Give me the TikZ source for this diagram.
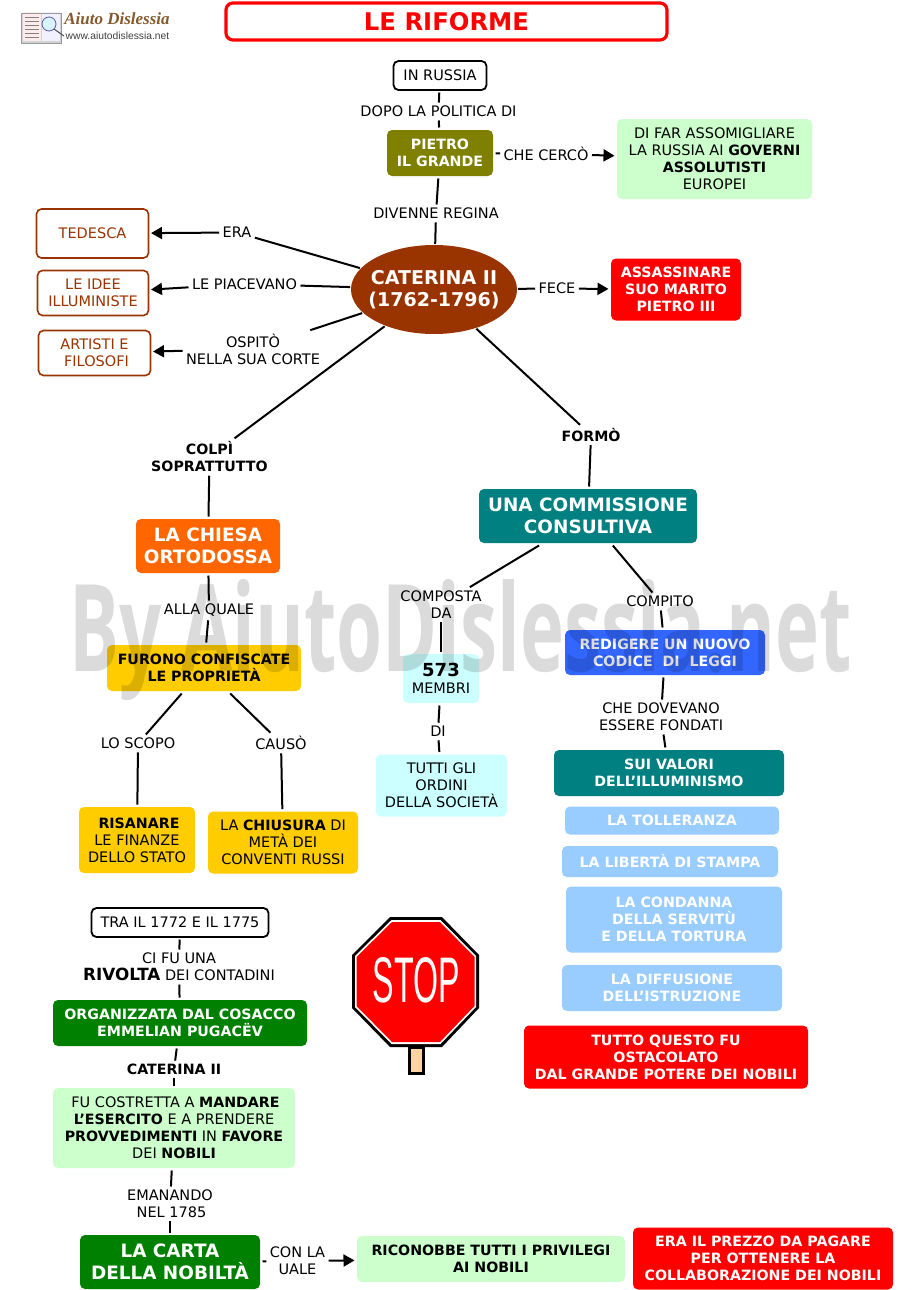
\documentclass[tikz,border=0pt]{standalone}
\usepackage{fontspec}
\setmainfont{DejaVu Sans}
\newfontfamily\wmfont{Open Sans}
\newfontfamily\logofont{Liberation Serif}
\newfontfamily\urlfont{Liberation Sans}
\usetikzlibrary{arrows.meta,shapes.geometric}
\definecolor{brownc}{HTML}{993300}
\definecolor{olivec}{HTML}{808000}
\definecolor{mintc}{HTML}{CCFFCC}
\definecolor{tealc}{HTML}{008080}
\definecolor{orangec}{HTML}{FF6600}
\definecolor{yellowc}{HTML}{FFCC00}
\definecolor{cyanc}{HTML}{CCFFFF}
\definecolor{bluec}{HTML}{3366FF}
\definecolor{skyc}{HTML}{99CCFF}
\definecolor{greenc}{HTML}{008000}
\newcommand{\fs}[2]{\fontsize{#1}{#2}\selectfont}
\newcommand{\bt}[1]{{\fontsize{14.2}{17}\selectfont\bfseries #1}}
\tikzset{
  x=1pt,y=-1pt,
  sz/.style 2 args={minimum width=#1pt,minimum height=#2pt},
  txt/.style={font=\fs{14.5}{17},align=center,inner sep=0pt},
  lab/.style={txt,inner sep=1pt,outer sep=2.5pt},
  blab/.style={lab,font=\fs{14.2}{17}\bfseries},
  box/.style={txt,rectangle,rounded corners=5pt,inner sep=0pt,outer sep=2.5pt},
  bbox/.style={box,font=\fs{14.2}{17}\bfseries},
  big/.style={box,font=\fs{18.4}{22}\bfseries},
  conn/.style={draw=black,line width=2pt},
  arr/.style={conn,-{Triangle[length=11pt,width=12pt]}},
}
\begin{document}
\begin{tikzpicture}
\useasboundingbox (0,0) rectangle (919,1290);
\fill[white] (0,0) rectangle (919,1290);

% logo
\fill[gray!35] (21,13) rectangle (61,43);
\fill[red!8] (23,12) rectangle (41,41);
\fill[blue!6] (42,12) rectangle (60,41);
\draw[gray!80,line width=.6pt] (21,13) rectangle (61,43);
\foreach \yy in {17,21,25,29,33,37}{\draw[gray,line width=.5pt] (25,\yy) -- (39,\yy);}
\draw[gray!70!blue,line width=.8pt,fill=cyan!15] (49,24) circle (7);
\draw[gray!60!black,line width=1pt] (54,29) -- (64,36);
\node[inner sep=0pt,text=brown!70!black] (logoa) at (117,19) {\logofont\fs{17}{18}\bfseries\itshape Aiuto Dislessia};
\node[inner sep=0pt,text=black!75] (logob) at (117.5,36) {\urlfont\fs{10.3}{12}www.aiutodislessia.net};

% title
\node[rectangle,rounded corners=7pt,draw=red,line width=3.2pt,fill=white,sz={441}{37},text=red,font=\fs{24.3}{26}\bfseries,inner sep=0pt] (title) at (446.5,21.5) {LE RIFORME};

% top
\node[box,draw=black,line width=1.8pt,sz={93}{29}] (russia) at (440,75.5) {IN RUSSIA};
\node[lab] (dopo) at (438.5,111.5) {DOPO LA POLITICA DI};
\node[bbox,fill=olivec,text=white,sz={106}{46}] (pietro) at (440,153) {PIETRO\\IL GRANDE};
\node[lab] (cerco) at (546,153.5) {CHE CERCÒ};
\node[box,fill=mintc,sz={195}{80}] (assol) at (714.5,159) {DI FAR ASSOMIGLIARE\\LA RUSSIA AI \bt{GOVERNI}\\\bt{ASSOLUTISTI}\\EUROPEI};
\node[lab] (divenne) at (436,213.5) {DIVENNE REGINA};
\node[ellipse,fill=brownc,text=white,font=\fs{19}{22}\bfseries,align=center,inner xsep=-7pt,inner ysep=0pt,outer sep=1pt,sz={166}{89}] (cat) at (434,289.5) {CATERINA II\\(1762-1796)};

% left
\node[lab] (era) at (237,232.5) {ERA};
\node[box,draw=brownc,line width=1.6pt,fill=white,text=brownc,sz={112}{49}] (ted) at (92.5,233.5) {TEDESCA};
\node[lab] (piac) at (244.5,284) {LE PIACEVANO};
\node[box,draw=brownc,line width=1.6pt,fill=white,text=brownc,sz={111}{45}] (idee) at (93,293) {LE IDEE\\ILLUMINISTE};
\node[lab] (osp) at (253,349) {OSPITÒ\\NELLA SUA CORTE};
\node[box,draw=brownc,line width=1.6pt,fill=white,text=brownc,sz={112}{45}] (art) at (94.5,353) {ARTISTI E\\\hspace*{4pt}FILOSOFI};

% right
\node[lab] (fece) at (557,288.5) {FECE};
\node[bbox,fill=red,text=white,sz={130}{62}] (ass) at (676,289.5) {ASSASSINARE\\SUO MARITO\\PIETRO III};

% left branch
\node[blab] (colpi) at (209.5,457) {COLPÌ\\SOPRATTUTTO};
\node[big,fill=orangec,text=white,sz={144}{54}] (chiesa) at (208,546) {LA CHIESA\\ORTODOSSA};
\node[lab] (alla) at (209,610.5) {ALLA QUALE};
\node[bbox,fill=yellowc,sz={194}{46}] (furono) at (204,668) {FURONO CONFISCATE\\LE PROPRIETÀ};
\node[lab] (scopo) at (138,743.5) {LO SCOPO};
\node[lab] (causo) at (281,743) {CAUSÒ};
\node[box,fill=yellowc,sz={116}{66}] (ris) at (137,840) {\hspace*{4pt}\bt{RISANARE}\\LE FINANZE\\DELLO STATO};
\node[box,fill=yellowc,sz={150}{62}] (chiu) at (283,842.5) {LA \bt{CHIUSURA} DI\\METÀ DEI\\CONVENTI RUSSI};

% right branch
\node[blab] (formo) at (591,435) {FORMÒ};
\node[big,fill=tealc,text=white,sz={218}{54}] (comm) at (588,516) {UNA COMMISSIONE\\CONSULTIVA};
\node[lab] (comp) at (441,604.5) {COMPOSTA\\DA};
\node[box,fill=cyanc,sz={76}{49}] (mem) at (441,678.5) {{\fs{18}{21}\bfseries 573}\\MEMBRI};
\node[lab] (di) at (438,731.5) {DI};
\node[box,fill=cyanc,sz={131}{62}] (ordini) at (441.5,785.5) {TUTTI GLI\\ORDINI\\DELLA SOCIETÀ};
\node[lab] (compito) at (660,601.5) {COMPITO};
\node[bbox,fill=bluec,text=white,sz={200}{45}] (red) at (665,652.5) {REDIGERE UN NUOVO\\CODICE~~DI~~LEGGI};
\node[lab] (dov) at (661,717) {CHE DOVEVANO\\ESSERE FONDATI};
\node[bbox,fill=tealc,text=white,sz={230}{46}] (sui) at (669,773) {SUI VALORI\\DELL'ILLUMINISMO};
\node[bbox,fill=skyc,text=white,sz={214}{28}] (toll) at (672,820.5) {LA TOLLERANZA};
\node[bbox,fill=skyc,text=white,sz={216}{31}] (lib) at (670,861.5) {LA LIBERTÀ DI STAMPA};
\node[bbox,fill=skyc,text=white,sz={216}{66}] (cond) at (674,919.5) {LA CONDANNA\\DELLA SERVITÙ\\E DELLA TORTURA};
\node[bbox,fill=skyc,text=white,sz={220}{46}] (diff) at (672,988) {LA DIFFUSIONE\\DELL’ISTRUZIONE};
\node[bbox,fill=red,text=white,sz={284}{63}] (tutto) at (666,1057) {TUTTO QUESTO FU\\OSTACOLATO\\DAL GRANDE POTERE DEI NOBILI};

% bottom left
\node[box,draw=black,line width=1.8pt,sz={177}{29}] (tra) at (180,922.5) {TRA IL 1772 E IL 1775};
\node[lab] (rivolta) at (179,967) {CI FU UNA\\{\fs{16.8}{17}\bfseries RIVOLTA} DEI CONTADINI};
\node[bbox,fill=greenc,text=white,sz={254}{46}] (org) at (180,1023) {ORGANIZZATA DAL COSACCO\\EMMELIAN PUGACËV};
\node[blab] (catb) at (174,1069.5) {CATERINA II};
\node[box,fill=mintc,sz={242}{80}] (fu) at (174,1128) {\hspace*{3pt}FU COSTRETTA A \bt{MANDARE}\\\bt{L’ESERCITO} E A PRENDERE\\\bt{PROVVEDIMENTI} IN \bt{FAVORE}\\DEI \bt{NOBILI}};
\node[lab] (ema) at (170,1204) {EMANANDO\\\hspace*{3pt}NEL 1785};
\node[big,fill=greenc,text=white,sz={180}{54}] (carta) at (170,1262) {LA CARTA\\DELLA NOBILTÀ};
\node[lab] (conla) at (297.5,1261) {CON LA\\UALE};
\node[bbox,fill=mintc,sz={268}{46}] (ric) at (491,1259) {RICONOBBE TUTTI I PRIVILEGI\\AI NOBILI};
\node[bbox,fill=red,text=white,sz={260}{62}] (prezzo) at (763,1258.5) {ERA IL PREZZO DA PAGARE\\PER OTTENERE LA\\COLLABORAZIONE DEI NOBILI};

% connectors
\draw[conn] (russia) -- (dopo);
\draw[conn] (dopo) -- (pietro);
\draw[conn] (pietro) -- (cerco);
\draw[arr] (cerco) -- (assol);
\draw[conn] (pietro) -- (divenne);
\draw[conn] (divenne) -- (cat);
\draw[conn] (cat) -- (era);
\draw[arr] (era) -- (ted);
\draw[conn] (cat) -- (piac);
\draw[arr] (piac) -- (idee);
\draw[conn] (cat) -- (osp);
\draw[arr] (osp) -- (art);
\draw[conn] (cat) -- (fece);
\draw[arr] (fece) -- (ass);
\draw[conn] (cat) -- (colpi);
\draw[conn] (colpi) -- (chiesa);
\draw[conn] (chiesa) -- (alla);
\draw[conn] (alla) -- (furono);
\draw[conn] (furono) -- (scopo);
\draw[conn] (furono) -- (causo);
\draw[conn] (scopo) -- (ris);
\draw[conn] (causo) -- (chiu);
\draw[conn] (cat) -- (formo);
\draw[conn] (formo) -- (comm);
\draw[conn] (comm) -- (comp);
\draw[conn] (comp) -- (mem);
\draw[conn] (mem) -- (di);
\draw[conn] (di) -- (ordini);
\draw[conn] (comm) -- (compito);
\draw[conn] (compito) -- (red);
\draw[conn] (red) -- (dov);
\draw[conn] (dov) -- (sui);
\draw[conn] (tra) -- (rivolta);
\draw[conn] (rivolta) -- (org);
\draw[conn] (org) -- (catb);
\draw[conn] (catb) -- (fu);
\draw[conn] (fu) -- (ema);
\draw[conn] (ema) -- (carta);
\draw[conn] (carta) -- (conla);
\draw[arr] (conla) -- (ric);

% stop sign
\fill[black] (390,917) -- (442,917) -- (479,955) -- (479,1008) -- (442,1047) -- (390,1047) -- (352,1008) -- (352,955) -- cycle;
\fill[white] (391.5,920) -- (440.5,920) -- (476,956) -- (476,1007) -- (440.5,1044) -- (391.5,1044) -- (355,1007) -- (355,956) -- cycle;
\fill[red] (392,922) -- (440,922) -- (474.5,957) -- (474.5,1006) -- (440,1042) -- (392,1042) -- (356.5,1006) -- (356.5,957) -- cycle;
\fill[black] (408,1047) rectangle (425,1075);
\fill[orange!35!white] (411,1049) rectangle (422,1072);
\node[inner sep=0pt,text=white] (stop) at (416.5,980) {\resizebox{87pt}{45pt}{\urlfont STOP}};

% watermark
\node[inner sep=0pt,text=black,text opacity=.14] (wm) at (461,640) {\resizebox{782pt}{92pt}{\wmfont\bfseries By AiutoDislessia.net}};
\end{tikzpicture}
\end{document}
